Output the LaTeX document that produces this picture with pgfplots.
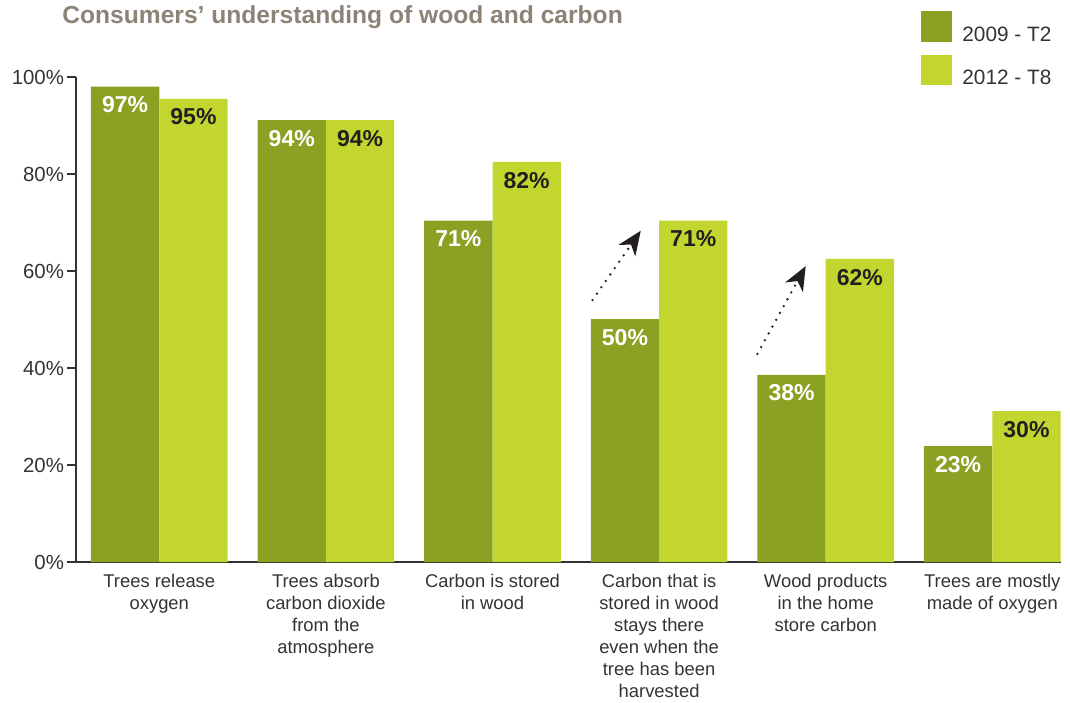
\documentclass[border=0pt]{standalone}
\usepackage{pgfplots}
\pgfplotsset{compat=1.18}
\usepackage{fontspec}
\setmainfont{Liberation Sans}
\usetikzlibrary{arrows.meta}
\definecolor{darkgreen}{HTML}{8BA123}
\definecolor{lightgreen}{HTML}{C2D62F}
\definecolor{titlegray}{HTML}{8C8276}
\definecolor{textgray}{HTML}{333333}
\definecolor{labeldark}{HTML}{231F20}
\begin{document}
\begin{tikzpicture}
\useasboundingbox (-38pt,-70pt) rectangle (497pt,281pt);
\begin{axis}[
  at={(0,0)}, anchor=south west,
  scale only axis,
  width=492.3pt, height=242.5pt,
  xmin=-0.5, xmax=5.41,
  ymin=0, ymax=100,
  axis lines*=left,
  axis line style={draw=textgray, line width=0.6pt},
  clip=false,
  ybar=0pt,
  bar width=0.41,
  ytick={0,20,40,60,80,100},
  yticklabel={\pgfmathprintnumber{\tick}\%},
  /pgf/number format/assume math mode=true,
  yticklabel style={font=\fontsize{10.2}{12}\selectfont, text=textgray, xshift=2pt},
  tick align=outside,
  major tick length=4.5pt,
  ytick style={draw=textgray, line width=0.6pt},
  xtick={0,1,2,3,4,5},
  xtick style={draw=none},
  xticklabels={
    {Trees release\\oxygen},
    {Trees absorb\\carbon dioxide\\from the\\atmosphere},
    {Carbon is stored\\in wood},
    {Carbon that is\\stored in wood\\stays there\\even when the\\tree has been\\harvested},
    {Wood products\\in the home\\store carbon},
    {Trees are mostly\\made of oxygen}},
  xticklabel style={align=center, inner sep=1pt, font=\fontsize{9.2}{11}\selectfont, text=textgray, yshift=-0.6pt},
  point meta=explicit,
  nodes near coords={\pgfmathprintnumber{\pgfplotspointmeta}\%},
  every node near coord/.append style={anchor=north, yshift=-1.5pt, font=\fontsize{11.5}{13}\selectfont\bfseries},
]
\addplot[fill=darkgreen, draw=none,
  every node near coord/.append style={text=white}]
  coordinates {(0,98.0)[97] (1,91.1)[94] (2,70.4)[71] (3,50.1)[50] (4,38.6)[38] (5,23.9)[23]};
\addplot[fill=lightgreen, draw=none,
  every node near coord/.append style={text=labeldark}]
  coordinates {(0,95.5)[95] (1,91.1)[94] (2,82.5)[82] (3,70.4)[71] (4,62.5)[62] (5,31.1)[30]};
\draw[labeldark, line width=1.3pt, line cap=round, dash pattern=on 0pt off 3.9pt,
  -{Stealth[length=12pt,width=10pt,inset=3.5pt]}]
  (axis cs:2.60,54.0) -- (axis cs:2.89,68.3);
\draw[labeldark, line width=1.3pt, line cap=round, dash pattern=on 0pt off 3.9pt,
  -{Stealth[length=12pt,width=10pt,inset=3.5pt]}]
  (axis cs:3.59,42.9) -- (axis cs:3.88,61.0);
\end{axis}
\node[anchor=base west, inner sep=0pt, text=titlegray, font=\fontsize{12.3}{14}\selectfont\bfseries]
  at (-7pt,269pt) {Consumers’ understanding of wood and carbon};
\fill[darkgreen] (422.5pt,260pt) rectangle (438pt,275.5pt);
\fill[lightgreen] (422.5pt,238.5pt) rectangle (438pt,253.5pt);
\node[anchor=base west, inner sep=0pt, text=textgray, font=\fontsize{10.4}{12}\selectfont]
  at (443pt,260pt) {2009 - T2};
\node[anchor=base west, inner sep=0pt, text=textgray, font=\fontsize{10.4}{12}\selectfont]
  at (443pt,238.5pt) {2012 - T8};
\end{tikzpicture}
\end{document}
